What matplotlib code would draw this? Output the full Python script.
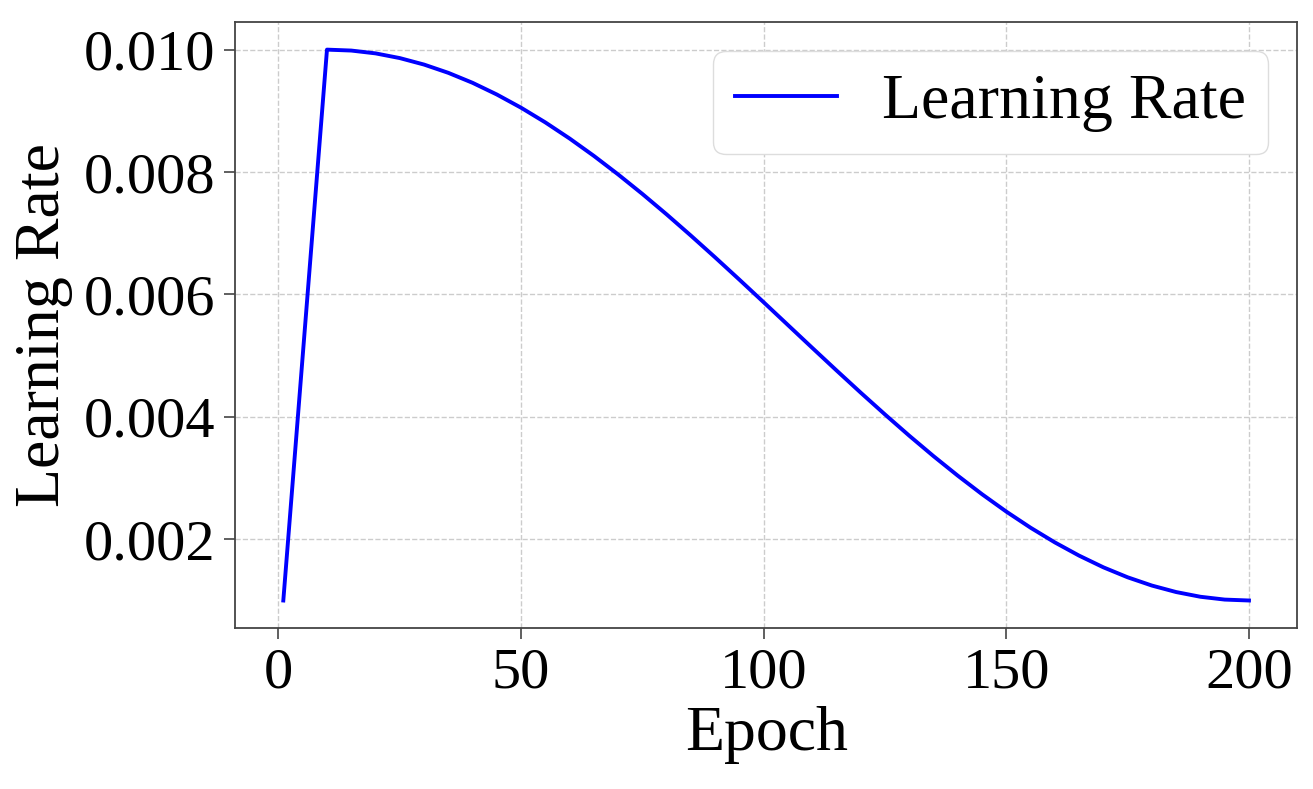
import matplotlib
matplotlib.use("Agg")
import matplotlib.pyplot as plt

# learning rate per epoch (warmup then decay)
epochs = [1, 10, 15, 20, 25, 30, 35, 40, 45, 50, 55, 60, 65, 70, 75, 80, 85, 90, 95,
          100, 105, 110, 115, 120, 125, 130, 135, 140, 145, 150, 155, 160, 165, 170,
          175, 180, 185, 190, 195, 200]
lr = [0.00100, 0.01000, 0.009985, 0.009939, 0.009862, 0.009756, 0.009621, 0.009458,
      0.009267, 0.009051, 0.008811, 0.008548, 0.008264, 0.007961, 0.007642, 0.007308,
      0.006961, 0.006605, 0.006241, 0.005872, 0.005500, 0.005128, 0.004759, 0.004395,
      0.004039, 0.003692, 0.003358, 0.003039, 0.002736, 0.002452, 0.002189, 0.001949,
      0.001733, 0.001542, 0.001379, 0.001244, 0.001138, 0.001061, 0.001015, 0.001000]

xticks = [0, 50, 100, 150, 200]
yticks = [0.002, 0.004, 0.006, 0.008, 0.010]

plt.rcParams['font.family'] = ['Liberation Serif', 'DejaVu Serif']

fig = plt.figure(figsize=(13.13, 7.89), dpi=100)
ax = fig.add_axes([0.179, 0.204, 0.809, 0.768])

ax.plot(epochs, lr, color='blue', lw=2.8, label='Learning Rate')

ax.set_xticks(xticks)
ax.set_yticks(yticks)
ax.set_yticklabels(['%.3f' % v for v in yticks])
ax.tick_params(labelsize=42, length=8, width=1.2, color='#444444', pad=6)
ax.set_xlabel('Epoch', fontsize=46, labelpad=5)
ax.set_ylabel('Learning Rate', fontsize=46, labelpad=8)

ax.grid(True, linestyle='--', color='#cccccc', linewidth=1.0)
for s in ax.spines.values():
    s.set_color('#444444')
    s.set_linewidth(1.3)

leg = ax.legend(loc='upper right', fontsize=46, fancybox=True, framealpha=1.0,
                handlelength=1.6, handletextpad=0.7, borderpad=0.35,
                borderaxespad=0.45)
leg.get_frame().set_edgecolor('#dddddd')

fig.savefig('out.png', dpi=100)
